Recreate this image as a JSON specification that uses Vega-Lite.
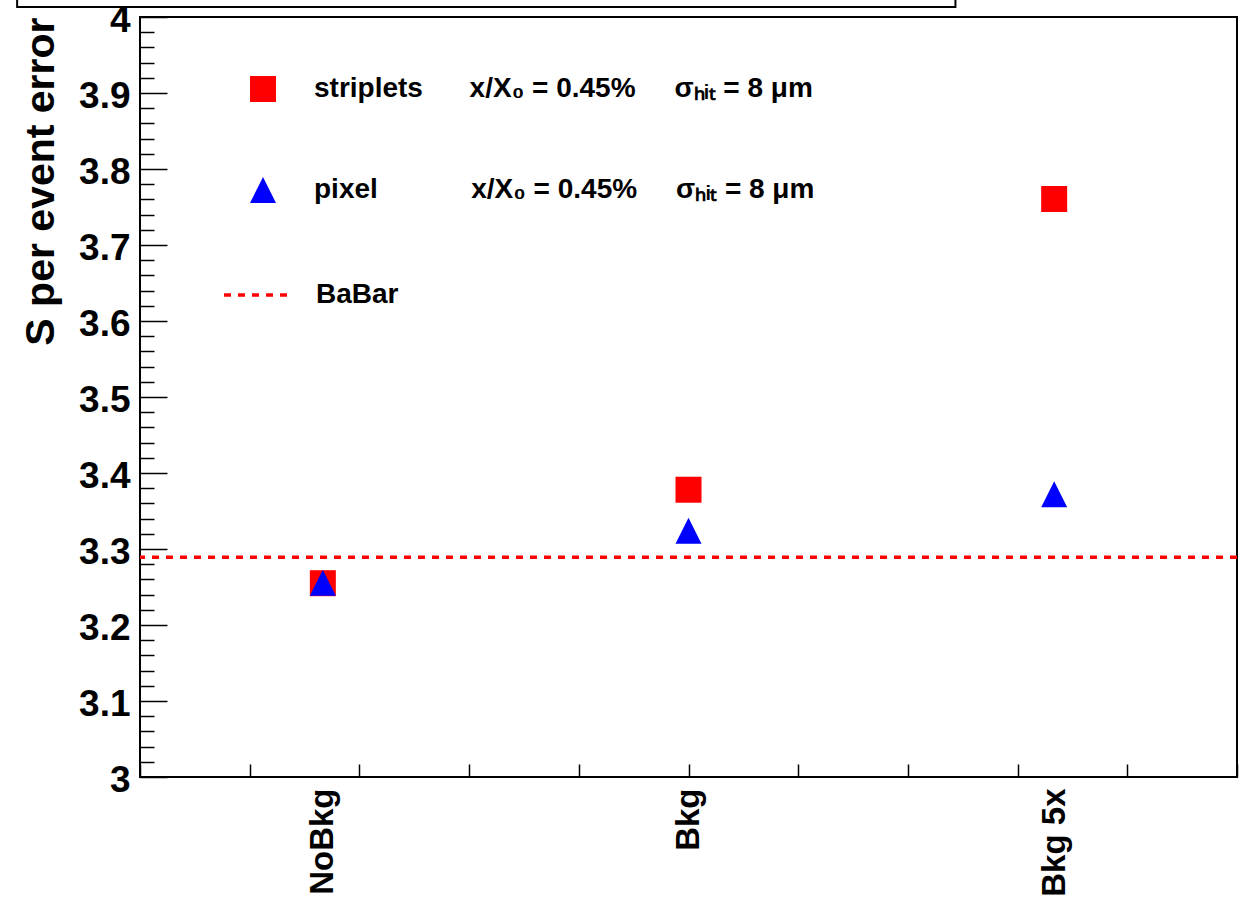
{
  "$schema": "https://vega.github.io/schema/vega-lite/v6.json",
  "width": 1097,
  "height": 760,
  "autosize": {"type": "none"},
  "padding": {"left": 140, "top": 17, "right": 10, "bottom": 128},
  "background": "white",
  "config": {"view": {"stroke": "black", "strokeWidth": 2}, "font": "Liberation Sans"},
  "datasets": {
    "measurements": [
      {"cond": "NoBkg", "series": "striplets", "value": 3.255},
      {"cond": "Bkg", "series": "striplets", "value": 3.378},
      {"cond": "Bkg 5x", "series": "striplets", "value": 3.7605},
      {"cond": "NoBkg", "series": "pixel", "value": 3.2555},
      {"cond": "Bkg", "series": "pixel", "value": 3.324},
      {"cond": "Bkg 5x", "series": "pixel", "value": 3.372}
    ],
    "reference": [
      {"series": "BaBar", "value": 3.289}
    ]
  },
  "layer": [
    {
      "data": {"name": "reference"},
      "mark": {"type": "rect", "fill": "white", "stroke": "black", "strokeWidth": 2, "clip": false},
      "encoding": {
        "x": {
          "datum": 0.164, "type": "quantitative",
          "scale": {"domain": [0.5, 3.5], "nice": false, "zero": false},
          "axis": {
            "orient": "bottom",
            "values": [0.5, 0.8, 1.1, 1.4, 1.7, 2.0, 2.3, 2.6, 2.9, 3.2, 3.5],
            "labels": false, "domain": false, "grid": false,
            "tickSize": -13, "tickWidth": 1.5, "tickColor": "black", "title": null
          }
        },
        "x2": {"datum": 2.73},
        "y": {
          "datum": 4.0132, "type": "quantitative",
          "scale": {"domain": [3, 4], "nice": false, "zero": false},
          "axis": {
            "orient": "left",
            "values": [3, 3.02, 3.04, 3.06, 3.08, 3.1, 3.12, 3.14, 3.16, 3.18, 3.2, 3.22, 3.24, 3.26, 3.28, 3.3, 3.32, 3.34, 3.36, 3.38, 3.4, 3.42, 3.44, 3.46, 3.48, 3.5, 3.52, 3.54, 3.56, 3.58, 3.6, 3.62, 3.64, 3.66, 3.68, 3.7, 3.72, 3.74, 3.76, 3.78, 3.8, 3.82, 3.84, 3.86, 3.88, 3.9, 3.92, 3.94, 3.96, 3.98, 4],
            "labels": false, "domain": false, "grid": false,
            "tickSize": {"condition": {"test": "abs(datum.value*10 - round(datum.value*10)) < 0.001", "value": -27}, "value": -14},
            "tickWidth": 1.5, "tickColor": "black", "title": null
          }
        },
        "y2": {"datum": 4.6}
      }
    },
    {
      "data": {"name": "reference"},
      "mark": {"type": "rule", "color": "#ff0000", "strokeWidth": 3.5},
      "encoding": {
        "y": {
          "field": "value", "type": "quantitative",
          "scale": {"domain": [3, 4], "nice": false, "zero": false},
          "axis": {
            "orient": "left",
            "values": [3, 3.1, 3.2, 3.3, 3.4, 3.5, 3.6, 3.7, 3.8, 3.9, 4],
            "format": "~g",
            "ticks": false, "domain": false, "grid": false,
            "labelFont": "Liberation Sans", "labelFontWeight": "bold", "labelFontSize": 37,
            "labelColor": "black", "labelPadding": 10, "labelFlush": false, "labelOffset": 3,
            "title": "S per event error",
            "titleFont": "Liberation Sans", "titleFontWeight": "bold", "titleFontSize": 41,
            "titleColor": "black", "titleAnchor": "end", "titlePadding": 16
          }
        },
        "strokeDash": {
          "field": "series", "type": "nominal",
          "scale": {"range": [[7, 7]]},
          "legend": {
            "orient": "none", "legendX": 82, "legendY": 241, "title": null, "padding": 0,
            "symbolType": "stroke", "symbolSize": 4900, "symbolStrokeColor": "#ff0000",
            "symbolStrokeWidth": 3.5, "symbolDash": [7, 7],
            "labelFont": "Liberation Sans", "labelFontWeight": "bold", "labelFontSize": 28,
            "labelColor": "black", "labelOffset": 20
          }
        }
      }
    },
    {
      "data": {"name": "measurements"},
      "mark": {"type": "point", "filled": true, "opacity": 1, "size": 676, "strokeWidth": 0},
      "encoding": {
        "x": {
          "field": "cond", "type": "nominal", "sort": null,
          "scale": {"type": "point", "padding": 0.5},
          "axis": {
            "orient": "bottom", "labelAngle": -90, "ticks": false, "domain": false, "grid": false,
            "labelFont": "Liberation Sans", "labelFontWeight": "bold", "labelFontSize": 33,
            "labelColor": "black", "labelPadding": 11, "labelBaseline": "middle", "labelAlign": "right",
            "title": null
          }
        },
        "y": {
          "field": "value", "type": "quantitative",
          "scale": {"domain": [3, 4], "nice": false, "zero": false},
          "axis": null
        },
        "color": {
          "field": "series", "type": "nominal",
          "scale": {"domain": ["striplets", "pixel"], "range": ["#ff0000", "#0000ff"]},
          "legend": {
            "orient": "none", "legendX": 109, "legendY": 58, "title": null, "padding": 0,
            "symbolSize": 676, "symbolStrokeWidth": 0, "symbolOpacity": 1,
            "labelFont": "Liberation Sans", "labelFontWeight": "bold", "labelFontSize": 28,
            "labelColor": "black", "labelOffset": 37, "rowPadding": 73, "labelLimit": 1000,
            "labelExpr": "datum.label == 'striplets' ? 'striplets\u00a0\u00a0\u00a0\u00a0\u00a0\u00a0x/X\u2080 = 0.45%\u00a0\u00a0\u00a0\u00a0\u00a0\u03c3\u2095\u1d62\u209c = 8 \u03bcm' : 'pixel\u00a0\u00a0\u00a0\u00a0\u00a0\u00a0\u00a0\u00a0\u00a0\u00a0\u00a0\u00a0x/X\u2080 = 0.45%\u00a0\u00a0\u00a0\u00a0\u00a0\u03c3\u2095\u1d62\u209c = 8 \u03bcm'"
          }
        },
        "shape": {
          "field": "series", "type": "nominal",
          "scale": {"domain": ["striplets", "pixel"], "range": ["square", "M0,-1L-1,1L1,1Z"]},
          "legend": {
            "orient": "none", "legendX": 109, "legendY": 58, "title": null, "padding": 0,
            "symbolSize": 676, "symbolStrokeWidth": 0, "symbolOpacity": 1,
            "labelFont": "Liberation Sans", "labelFontWeight": "bold", "labelFontSize": 28,
            "labelColor": "black", "labelOffset": 37, "rowPadding": 73, "labelLimit": 1000,
            "labelExpr": "datum.label == 'striplets' ? 'striplets\u00a0\u00a0\u00a0\u00a0\u00a0\u00a0x/X\u2080 = 0.45%\u00a0\u00a0\u00a0\u00a0\u00a0\u03c3\u2095\u1d62\u209c = 8 \u03bcm' : 'pixel\u00a0\u00a0\u00a0\u00a0\u00a0\u00a0\u00a0\u00a0\u00a0\u00a0\u00a0\u00a0x/X\u2080 = 0.45%\u00a0\u00a0\u00a0\u00a0\u00a0\u03c3\u2095\u1d62\u209c = 8 \u03bcm'"
          }
        }
      }
    }
  ],
  "resolve": {
    "scale": {"x": "independent"},
    "axis": {"x": "independent", "y": "independent"}
  }
}
